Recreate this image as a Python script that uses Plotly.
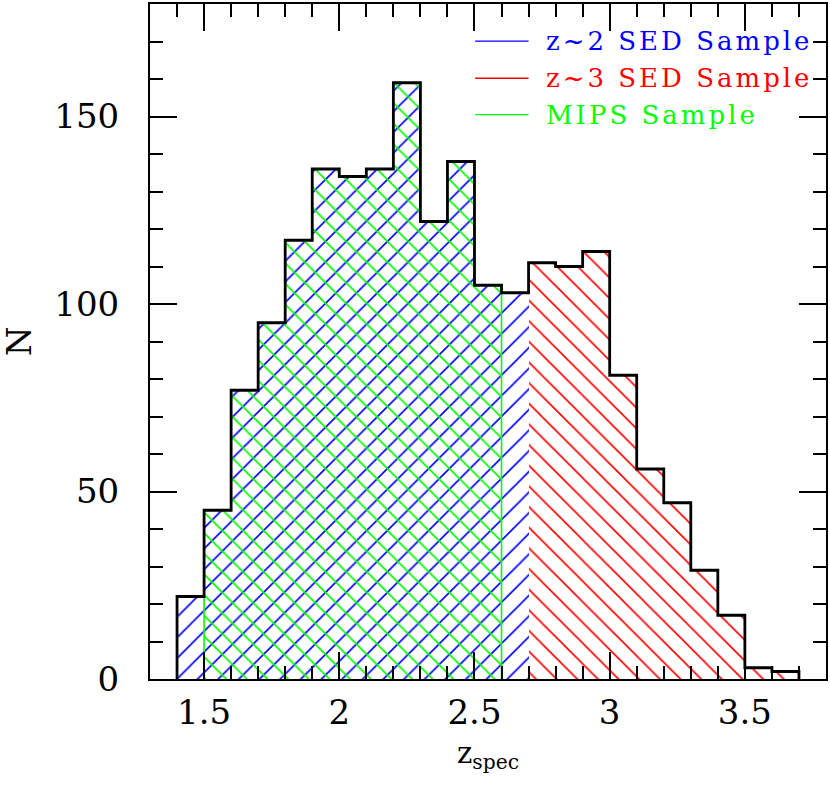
import plotly.graph_objects as go

# Bin edges of the spectroscopic redshift histogram (width 0.1)
z_edges = [1.4, 1.5, 1.6, 1.7, 1.8, 1.9, 2.0, 2.1, 2.2, 2.3, 2.4, 2.5,
           2.6, 2.7, 2.8, 2.9, 3.0, 3.1, 3.2, 3.3, 3.4, 3.5, 3.6, 3.7]

# Counts per bin for each sample
n_z2 = [22, 45, 77, 95, 117, 136, 134, 136, 159, 122, 138, 105, 103,
        0, 0, 0, 0, 0, 0, 0, 0, 0, 0]
n_z3 = [0, 0, 0, 0, 0, 0, 0, 0, 0, 0, 0, 0, 0,
        111, 110, 114, 81, 56, 47, 29, 17, 3, 2]
n_mips = [0, 45, 77, 95, 117, 136, 134, 136, 159, 122, 138, 105, 0,
          0, 0, 0, 0, 0, 0, 0, 0, 0, 0]

labels = ["z~2 SED Sample", "z~3 SED Sample", "MIPS Sample"]
colors = ["#0000ff", "#ff0000", "#00ff00"]

FONT = "DejaVu Serif"

centers = [(a + b) / 2 for a, b in zip(z_edges[:-1], z_edges[1:])]
n_total = [a + b for a, b in zip(n_z2, n_z3)]


def step_outline(counts):
    """Outline of the non-empty bins as a closed-bottom step path."""
    idx = [i for i, c in enumerate(counts) if c > 0]
    xs, ys = [z_edges[idx[0]]], [0]
    for i in idx:
        xs += [z_edges[i], z_edges[i + 1]]
        ys += [counts[i], counts[i]]
    xs.append(z_edges[idx[-1] + 1])
    ys.append(0)
    return xs, ys


def hatch_bar(counts, shape, color):
    return go.Bar(
        x=centers, y=counts, width=0.1,
        marker=dict(
            color=color,
            opacity=1,
            line=dict(width=0),
            pattern=dict(shape=shape, fgcolor=color, fgopacity=1,
                         bgcolor="rgba(0,0,0,0)", fillmode="replace",
                         size=14.6, solidity=0.11),
        ),
        showlegend=False, hoverinfo="skip",
    )


fig = go.Figure()
fig.add_trace(hatch_bar(n_z2, "/", colors[0]))
fig.add_trace(hatch_bar(n_z3, "\\", colors[1]))
fig.add_trace(hatch_bar(n_mips, "\\", colors[2]))

gx, gy = step_outline(n_mips)
fig.add_trace(go.Scatter(x=gx, y=gy, mode="lines",
                         line=dict(color=colors[2], width=1.6),
                         showlegend=False, hoverinfo="skip"))

tx, ty = step_outline(n_total)
fig.add_trace(go.Scatter(x=tx, y=ty, mode="lines",
                         line=dict(color="black", width=2.8),
                         showlegend=False, hoverinfo="skip"))

# legend drawn by hand: short line sample + coloured text
row_y = [0.945, 0.890, 0.836]
for lab, col, yy in zip(labels, colors, row_y):
    fig.add_shape(type="line", xref="paper", yref="paper",
                  x0=0.481, x1=0.560, y0=yy, y1=yy,
                  line=dict(color=col, width=1.3))
    fig.add_annotation(xref="paper", yref="paper", x=0.583, y=yy,
                       xanchor="left", yanchor="middle", showarrow=False,
                       text="<span style='letter-spacing:3px'>" + lab + "</span>",
                       font=dict(family=FONT, size=26, color=col))

# axis titles
fig.add_annotation(xref="paper", yref="paper", x=-0.194, y=0.5,
                   xanchor="center", yanchor="middle", showarrow=False,
                   textangle=-90, text="N",
                   font=dict(family=FONT, size=34, color="black"))
fig.add_annotation(xref="paper", yref="paper", x=0.5, y=-0.112,
                   xanchor="center", yanchor="middle", showarrow=False,
                   text="z<sub>spec</sub>",
                   font=dict(family=FONT, size=29, color="black"))

axis_common = dict(
    showline=True, linecolor="black", linewidth=2, mirror="allticks",
    ticks="inside", ticklen=27, tickwidth=1.5, tickcolor="black",
    showgrid=False, zeroline=False,
    tickfont=dict(family=FONT, size=34, color="black"),
)

fig.update_xaxes(range=[1.3, 3.8], tickmode="linear", tick0=1.5, dtick=0.5,
                 minor=dict(ticks="inside", dtick=0.1, ticklen=13,
                            tickwidth=1.5, tickcolor="black", showgrid=False),
                 ticklabelstandoff=2, **axis_common)
fig.update_yaxes(range=[0, 180], tickmode="linear", tick0=0, dtick=50,
                 minor=dict(ticks="inside", dtick=10, ticklen=13,
                            tickwidth=1.5, tickcolor="black", showgrid=False),
                 ticklabelstandoff=22, **axis_common)

fig.update_layout(
    width=830, height=788,
    margin=dict(l=150, r=2, t=2, b=109),
    barmode="overlay", bargap=0,
    plot_bgcolor="white", paper_bgcolor="white",
    showlegend=False,
)

fig.write_html("out.html", config={"displayModeBar": False},
               post_script="document.body.style.margin='0px';")
